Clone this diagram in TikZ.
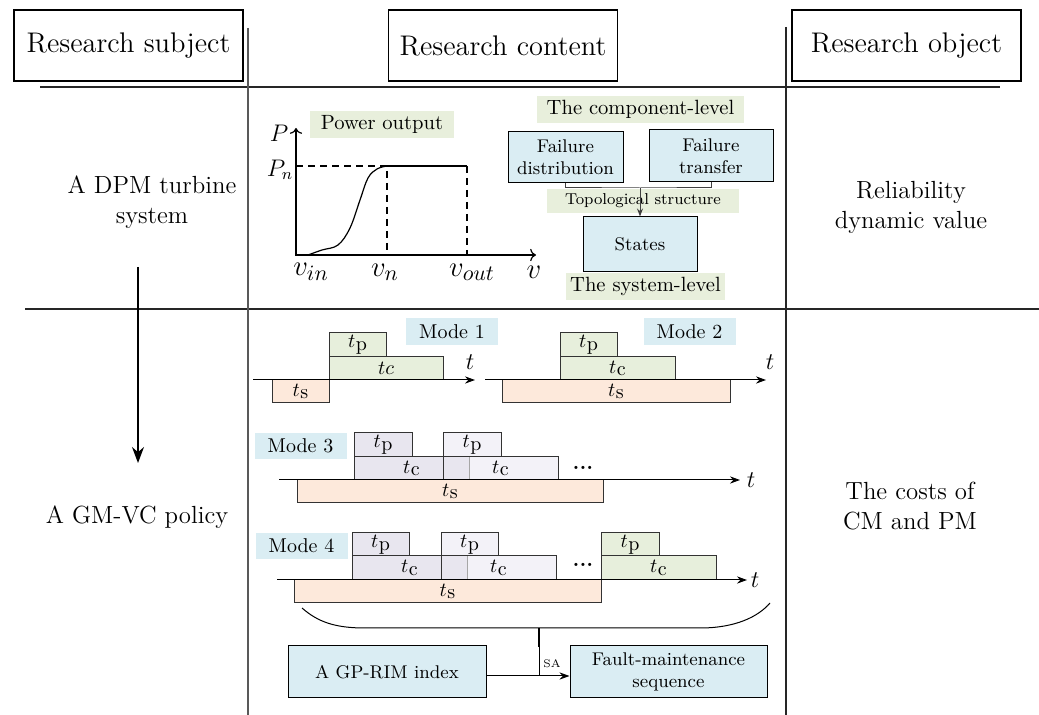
\documentclass[tikz,border=0pt]{standalone}
\usepackage{tikz}
\usetikzlibrary{calc,arrows.meta,positioning}
\definecolor{tagG}{HTML}{E8EFDC}
\definecolor{boxB}{HTML}{DAEDF3}
\definecolor{segG}{HTML}{E7EFDC}
\definecolor{segO}{HTML}{FDE9DB}
\definecolor{lavA}{HTML}{E8E6EF}
\definecolor{lavB}{HTML}{F3F2F8}
\newcommand{\tsub}[1]{$t$\kern0.3pt\raisebox{-0.3ex}{#1}}
% one bar of a time line: name, corners, fill, label
\newcommand{\seg}[7]{%
  \draw[segline, fill=#6] (#2,#3) rectangle (#4,#5);
  \node[seglbl] (#1) at ($(#2,#3)!0.5!(#4,#5)$) {#7};}

\begin{document}
\begin{tikzpicture}[x=0.5pt, y=-0.5pt,
  hdr/.style={draw, line width=0.6pt, minimum width=114.5pt, minimum height=35.5pt,
    font=\fontsize{14.2}{16}\selectfont},
  side/.style={align=center, font=\fontsize{12.4}{15}\selectfont},
  tag/.style={fill=tagG, inner sep=0pt, font=\fontsize{10.3}{12}\selectfont},
  modetag/.style={fill=boxB, minimum width=46pt, minimum height=13.5pt,
    inner sep=0pt, font=\fontsize{10}{12}\selectfont},
  bluebox/.style={draw, fill=boxB, align=center, line width=0.5pt, inner sep=1pt,
    font=\fontsize{9.2}{11}\selectfont},
  segline/.style={draw=black!80, line width=0.5pt},
  seglbl/.style={inner sep=0pt, font=\fontsize{10}{12}\selectfont},
  lbl/.style={inner sep=0pt, font=\fontsize{12}{14}\selectfont},
  tarr/.style={-{Stealth[length=5pt,width=3.6pt]}, line width=0.5pt},
  divline/.style={line width=0.6pt, black!85}]
  \useasboundingbox (0,0) rectangle (1039,715);

  % headers and frame
  \node[hdr] (hsubj) at (128.5,45.5) {Research subject};
  \node[hdr] (hcont) at (503,45.5) {Research content};
  \node[hdr] (hobj) at (906.5,45.5) {Research object};
  \draw[divline] (40,87) -- (1000,87);
  \draw[divline] (25,309) -- (1039,309);
  \draw[divline, black!65] (248,28) -- (248,715);
  \draw[divline] (786,27) -- (786,715);

  % left and right columns
  \node[side] (subj1) at (152,202) {A DPM turbine\\system};
  \node[side] (subj2) at (137,517) {A GM-VC policy};
  \node[side] (obj1) at (911,207) {Reliability\\dynamic value};
  \node[side] (obj2) at (910,506) {The costs of\\CM and PM};
  \coordinate (downtop) at (138,267);
  \coordinate (downend) at (138,463);
  \draw[-{Stealth[length=8pt,width=6pt]}, line width=0.7pt] (downtop) -- (downend);

  % power curve
  \node[tag, minimum width=72pt, minimum height=13.5pt] (power) at (382,124.5) {Power output};
  \draw[<->, line width=0.6pt] (296,128) |- (536,255);
  \draw[dashed, dash pattern=on 3.5pt off 2.5pt, line width=0.6pt]
    (296,166) -- (387,166) -- (387,255) (467,166) -- (467,255);
  \draw[line width=0.6pt] (387,166) -- (467,166);
  \draw[line width=0.6pt] plot[smooth, tension=0.6] coordinates
    {(308,255) (322,250) (338,245) (350,228) (360,200) (368,178) (377,169) (387,166)};
  \node[lbl] (pP) at (279,133) {$P$};
  \node[lbl] (pPn) at (280,170) {$P_n$};
  \node[lbl, font=\fontsize{15}{16}\selectfont] (vin) at (311,272) {$v_{in}$};
  \node[lbl, font=\fontsize{15}{16}\selectfont] (vn) at (385,272) {$v_n$};
  \node[lbl, font=\fontsize{15}{16}\selectfont] (vout) at (472,272) {$v_{out}$};
  \node[lbl, font=\fontsize{15}{16}\selectfont] (vv) at (534,272) {$v$};

  % component level to system level
  \node[tag, minimum width=103.5pt, minimum height=13.5pt] (complev) at (640.5,109.5) {The component-level};
  \node[bluebox, minimum width=57.5pt, minimum height=25.5pt] (fdist) at (565.5,157.5) {Failure\\distribution};
  \node[bluebox, minimum width=62pt, minimum height=26pt] (ftrans) at (711,156) {Failure\\transfer};
  \node[tag, minimum width=96pt, minimum height=12pt, font=\fontsize{7.9}{9}\selectfont] (topo) at (643,201) {Topological structure};
  \node[bluebox, minimum width=57pt, minimum height=27.5pt] (states) at (640,244.5) {States};
  \node[tag, minimum width=79.5pt, minimum height=13.5pt] (syslev) at (645.5,286.5) {The system-level};
  \coordinate (join) at (640,188);
  \draw[line width=0.5pt, black!75] (fdist.south) |- (join) -| (ftrans.south);
  \draw[-{Stealth[length=4pt,width=3pt]}, line width=0.5pt, black!75] (join) -- (states.north);

  % mode 1
  \node[modetag] (mode1) at (452,332) {Mode 1};
  \seg{m1ts}{272}{380}{329}{403}{segO}{\tsub{s}}
  \seg{m1tp}{329}{333}{386}{357}{segG}{\tsub{p}}
  \seg{m1tc}{329}{357}{443}{380}{segG}{$tc$}
  \coordinate (m1a) at (253,380);
  \coordinate (m1b) at (475,380);
  \draw[tarr] (m1a) -- (m1b);
  \node[lbl] (m1t) at (470,362) {$t$};

  % mode 2
  \node[modetag] (mode2) at (689.5,332) {Mode 2};
  \seg{m2ts}{502}{380}{730}{403}{segO}{\tsub{s}}
  \seg{m2tp}{560}{333}{617}{357}{segG}{\tsub{p}}
  \seg{m2tc}{560}{357}{675}{380}{segG}{\tsub{c}}
  \coordinate (m2a) at (485,380);
  \coordinate (m2b) at (766,380);
  \draw[tarr] (m2a) -- (m2b);
  \node[lbl] (m2t) at (770,362) {$t$};

  % mode 3
  \node[modetag, minimum height=13pt] (mode3) at (300.5,446) {Mode 3};
  \seg{m3ts}{297}{480}{603}{503}{segO}{\tsub{s}}
  \seg{m3tpa}{354}{433}{412}{457}{lavA}{\tsub{p}}
  \seg{m3tpb}{443}{433}{501}{457}{lavB}{\tsub{p}}
  \draw[segline, fill=lavB] (443,457) rectangle (558,480);
  \fill[lavA] (354,457) rectangle (469,480);
  \draw[black!35, line width=0.5pt] (469,457) -- (469,480);
  \draw[segline] (354,457) rectangle (443,480) (443,457) rectangle (558,480);
  \node[seglbl] (m3tca) at (411.5,468.5) {\tsub{c}};
  \node[seglbl] (m3tcb) at (500.5,468.5) {\tsub{c}};
  \node[lbl, font=\bfseries\fontsize{11}{12}\selectfont] (m3dots) at (583,468) {...};
  \coordinate (m3a) at (279,480);
  \coordinate (m3b) at (740,480);
  \draw[tarr] (m3a) -- (m3b);
  \node[lbl] (m3t) at (751,480) {$t$};

  % mode 4
  \node[modetag, minimum height=13pt] (mode4) at (301.5,546) {Mode 4};
  \seg{m4ts}{294}{580}{601}{603}{segO}{\tsub{s}}
  \seg{m4tpa}{352}{533}{409}{556}{lavA}{\tsub{p}}
  \seg{m4tpb}{441}{533}{498}{556}{lavB}{\tsub{p}}
  \draw[segline, fill=lavB] (441,556) rectangle (556,580);
  \fill[lavA] (352,556) rectangle (467,580);
  \draw[black!35, line width=0.5pt] (467,556) -- (467,580);
  \draw[segline] (352,556) rectangle (441,580) (441,556) rectangle (556,580);
  \node[seglbl] (m4tca) at (409.5,568) {\tsub{c}};
  \node[seglbl] (m4tcb) at (498.5,568) {\tsub{c}};
  \node[lbl, font=\bfseries\fontsize{11}{12}\selectfont] (m4dots) at (583,565) {...};
  \seg{m4tpc}{601}{533}{659}{556}{segG}{\tsub{p}}
  \seg{m4tcc}{601}{556}{716}{580}{segG}{\tsub{c}}
  \coordinate (m4a) at (277,580);
  \coordinate (m4b) at (747,580);
  \draw[tarr] (m4a) -- (m4b);
  \node[lbl] (m4t) at (755,580) {$t$};

  % brace and sequence
  \draw[line width=0.5pt] (302,608) .. controls (318,622) and (335,628) .. (365,628)
    -- (700,628) .. controls (735,628) and (758,617) .. (770,603);
  \coordinate (brc) at (539,628);
  \coordinate (sajoin) at (539,676);
  \node[bluebox, minimum width=99pt, minimum height=26pt] (gprim) at (387,672) {A GP-RIM index};
  \node[bluebox, minimum width=98.5pt, minimum height=26pt] (fault) at (668.5,672) {Fault-maintenance\\sequence};
  \draw[line width=1pt] (brc) -- ++(0,19);
  \draw[line width=0.5pt] (brc) -- (sajoin);
  \draw[-{Stealth[length=5pt,width=3.6pt]}, line width=0.5pt] ([yshift=-2pt]gprim.east) -- ([yshift=-2pt]fault.west);
  \node[inner sep=0pt, font=\fontsize{5.5}{6}\selectfont] (sa) at (552,664) {SA};
\end{tikzpicture}
\end{document}
